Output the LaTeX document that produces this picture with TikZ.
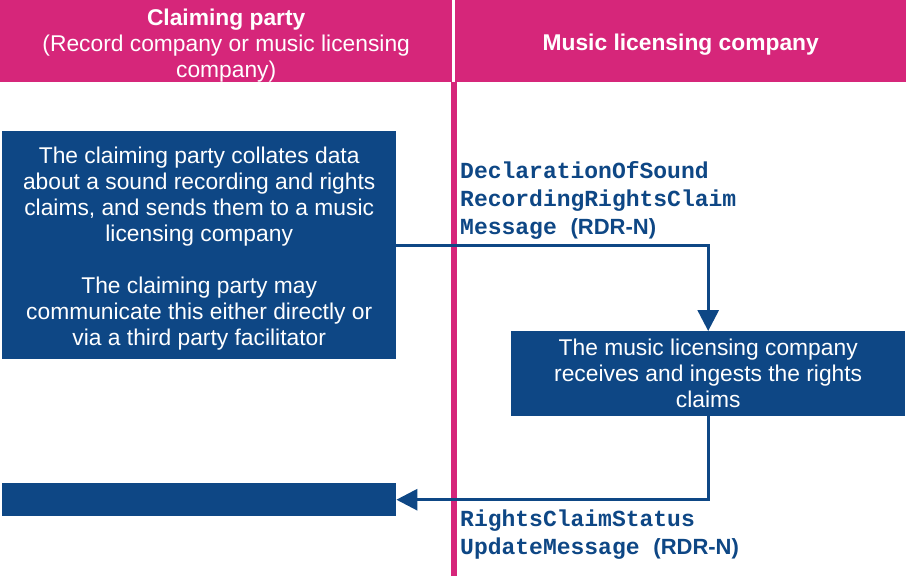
\documentclass[tikz,border=0pt]{standalone}
\usepackage{fontspec}
\setmainfont{Liberation Sans}
\newfontfamily\monof{Liberation Mono}
\usetikzlibrary{arrows.meta}
\definecolor{pinkc}{HTML}{D6267A}
\definecolor{bluec}{HTML}{0E4785}
\begin{document}
\begin{tikzpicture}[x=1pt,y=-1pt,
  headbox/.style={fill=pinkc, text=white, inner sep=0pt, anchor=north west, align=center,
     font=\fontsize{22.8}{26}\selectfont},
  bluebox/.style={fill=bluec, text=white, inner sep=0pt, anchor=north west, align=center,
     font=\fontsize{22.8}{26}\selectfont},
  msglabel/.style={text=bluec, inner sep=0pt, anchor=north west, align=left,
     font=\monof\bfseries\fontsize{23}{28}\selectfont},
  flow/.style={draw=bluec, line width=3pt, -{Triangle[length=21pt,width=21pt]}},
  lane/.style={draw=pinkc, line width=6pt}
]
\useasboundingbox (0,0) rectangle (906,576);
\fill[white] (0,0) rectangle (906,576);

\node[headbox, minimum width=452pt, minimum height=82pt] (hl) at (0,0)
  {\rule{0pt}{25pt}\textbf{Claiming party}\\(Record company or music licensing\\company)};
\node[headbox, minimum width=451pt, minimum height=82pt] (hr) at (455,0)
  {\rule{0pt}{23pt}\textbf{Music licensing company}};

\coordinate (lt) at (454,82);
\coordinate (lb) at (454,576);
\draw[lane] (lt) -- (lb);

\node[bluebox, minimum width=394pt, minimum height=228pt] (b1) at (2,131)
  {\rule{0pt}{23pt}The claiming party collates data\\about a sound recording and rights\\claims, and sends them to a music\\licensing company\\[26pt]The claiming party may\\communicate this either directly or\\via a third party facilitator};
\node[bluebox, minimum width=394pt, minimum height=85pt] (b2) at (511,331)
  {The music licensing company\\receives and ingests the rights\\claims};
\node[bluebox, minimum width=394pt, minimum height=33pt] (b3) at (2,483) {};

\draw[flow] (b1.east) -| (b2.north);
\draw[flow] (b2.south) |- (b3.east);

\node[msglabel] (m1) at (460,161)
  {DeclarationOfSound\\RecordingRightsClaim\\Message {\normalfont\bfseries\fontsize{22}{28}\selectfont(RDR-N)}};
\node[msglabel] (m2) at (460,510)
  {RightsClaimStatus\\UpdateMessage {\normalfont\bfseries\fontsize{22}{28}\selectfont(RDR-N)}};
\end{tikzpicture}
\end{document}
